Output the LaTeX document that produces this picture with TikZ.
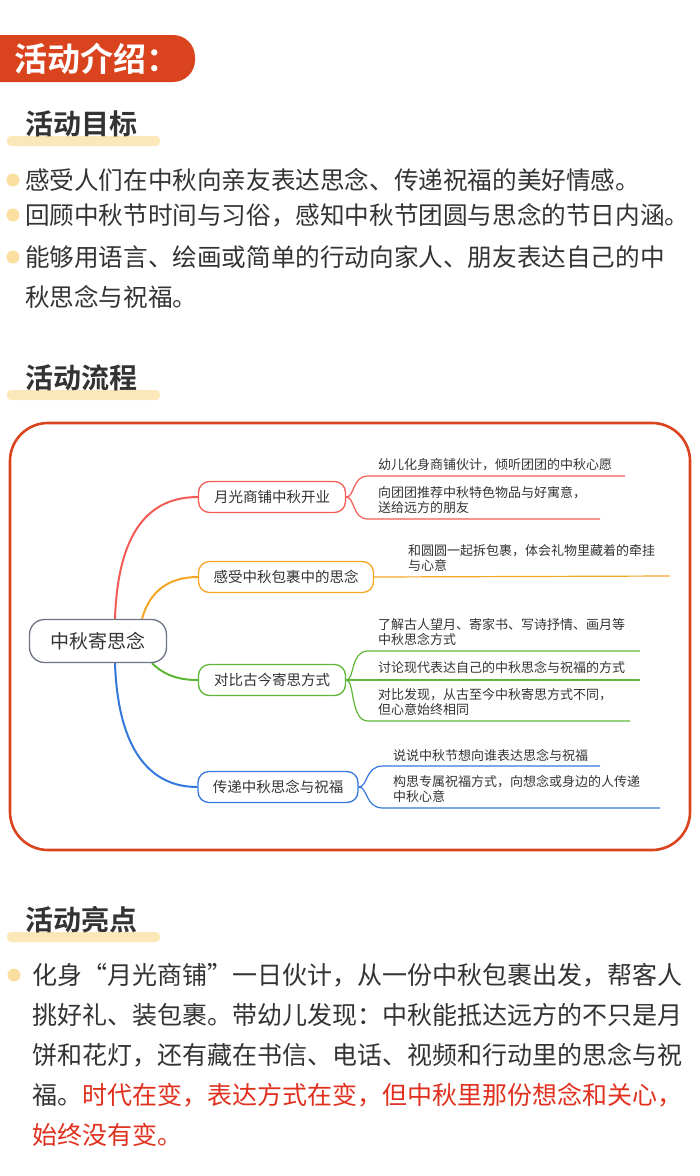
\documentclass[tikz,border=0pt]{standalone}
\usepackage{fontspec}
\setmainfont{Noto Sans CJK SC}
\newfontfamily\cjkb{Noto Sans CJK SC Bold}
\usetikzlibrary{backgrounds}
\definecolor{frame}{HTML}{D9441F}
\definecolor{txt}{HTML}{333333}
\definecolor{hl}{HTML}{FBE7B8}
\definecolor{dot}{HTML}{FBDFA0}
\definecolor{cr}{HTML}{F25C54}
\definecolor{co}{HTML}{F5A623}
\definecolor{cg}{HTML}{5DB734}
\definecolor{cb}{HTML}{3478DC}
\definecolor{cc}{HTML}{6B7385}
\definecolor{red2}{HTML}{E0301E}
\begin{document}
\begin{tikzpicture}[x=1pt,y=-1pt,
  body/.style={anchor=west,inner sep=0,text=txt,font=\fontsize{24.6}{25}\selectfont},
  head/.style={anchor=west,inner sep=0,text=txt,font=\cjkb\fontsize{28}{28}\selectfont},
  bar/.style={fill=hl,rounded corners=4pt},
  bdot/.style={circle,fill=dot,inner sep=0,minimum size=13pt},
  br/.style={draw=#1,line width=1.3pt,rounded corners=11pt,fill=white,text=txt,inner sep=0,minimum height=31pt,font=\fontsize{14.5}{14.5}\selectfont},
  leaf/.style={anchor=west,inner sep=0,text=txt,align=left,font=\fontsize{13}{15.5}\selectfont},
  ln/.style={draw=#1,line width=1.2pt}]
\useasboundingbox (0,0) rectangle (700,1176);
% title
\fill[frame,rounded corners=22pt] (-30,35) rectangle (195,82);
\node[anchor=west,inner sep=0,text=white,font=\cjkb\fontsize{33}{33}\selectfont] (title) at (14,59) {活动介绍：};
% goals
\fill[bar] (7,136) rectangle (160,146);
\node[head] (h1) at (25,124) {活动目标};
\node[bdot] (d1) at (13,180) {};
\node[bdot] (d2) at (13,215) {};
\node[bdot] (d3) at (13,257) {};
\node[body] (t1) at (25,180) {感受人们在中秋向亲友表达思念、传递祝福的美好情感。};
\node[body] (t2) at (25,215) {回顾中秋节时间与习俗，感知中秋节团圆与思念的节日内涵。};
\node[body] (t3) at (25,257) {能够用语言、绘画或简单的行动向家人、朋友表达自己的中};
\node[body] (t4) at (25,297) {秋思念与祝福。};
% flow
\fill[bar] (7,390) rectangle (160,400);
\node[head] (h2) at (25,378) {活动流程};
\draw[frame,line width=2.6pt,rounded corners=38pt] (10,423) rectangle (690,850);
% mind map
\node[draw=cc,line width=1.3pt,rounded corners=15pt,fill=white,minimum width=137pt,minimum height=43pt,text=txt,font=\fontsize{19}{19}\selectfont] (c) at (98,641) {中秋寄思念};
\node[br=cr,minimum width=147pt] (b1) at (272,497) {月光商铺中秋开业};
\node[br=co,minimum width=175pt] (b2) at (286,577) {感受中秋包裹中的思念};
\node[br=cg,minimum width=147pt] (b3) at (272,680) {对比古今寄思方式};
\node[br=cb,minimum width=160pt] (b4) at (278,787) {传递中秋思念与祝福};
\begin{scope}[on background layer]
\draw[cr,line width=2pt] (c.north) ++(17,0) .. controls (118,530) and (150,497) .. (b1.west);
\draw[co,line width=2pt] (c.north) ++(44,0) .. controls (150,590) and (170,577) .. (b2.west);
\draw[cg,line width=2pt] (c.south) ++(54,0) .. controls (165,676) and (180,680) .. (b3.west);
\draw[cb,line width=2pt] (c.south) ++(17,0) .. controls (118,750) and (150,787) .. (b4.west);
\end{scope}
% leaves 1
\coordinate (e11) at (625,476); \coordinate (e12) at (600,519);
\node[leaf] (l11) at (378,465) {幼儿化身商铺伙计，倾听团团的中秋心愿};
\node[leaf] (l12) at (378,500) {向团团推荐中秋特色物品与好寓意，\\送给远方的朋友};
\draw[ln=cr] (b1.east) .. controls (355,497) and (352,476) .. (368,476) -- (e11);
\draw[ln=cr] (b1.east) .. controls (355,497) and (352,519) .. (368,519) -- (e12);
% leaves 2
\coordinate (e21) at (670,576);
\node[leaf] (l21) at (408,558) {和圆圆一起拆包裹，体会礼物里藏着的牵挂\\与心意};
\draw[ln=co] (b2.east) -- (e21);
% leaves 3
\coordinate (e31) at (640,651); \coordinate (e32) at (640,680); \coordinate (e33) at (630,721);
\node[leaf] (l31) at (378,632) {了解古人望月、寄家书、写诗抒情、画月等\\中秋思念方式};
\node[leaf] (l32) at (378,667) {讨论现代表达自己的中秋思念与祝福的方式};
\node[leaf] (l33) at (378,702) {对比发现，从古至今中秋寄思方式不同，\\但心意始终相同};
\draw[ln=cg] (b3.east) .. controls (355,680) and (350,651) .. (368,651) -- (e31);
\draw[ln=cg] (b3.east) -- (e32);
\draw[ln=cg] (b3.east) .. controls (355,680) and (350,721) .. (368,721) -- (e33);
% leaves 4
\coordinate (e41) at (600,766); \coordinate (e42) at (660,808);
\node[leaf] (l41) at (393,755) {说说中秋节想向谁表达思念与祝福};
\node[leaf] (l42) at (393,789) {构思专属祝福方式，向想念或身边的人传递\\中秋心意};
\draw[ln=cb] (b4.east) .. controls (368,787) and (365,766) .. (383,766) -- (e41);
\draw[ln=cb] (b4.east) .. controls (368,787) and (365,808) .. (383,808) -- (e42);
% highlights
\fill[bar] (7,932) rectangle (160,942);
\node[head] (h3) at (25,920) {活动亮点};
\node[bdot] (d4) at (14,975) {};
\node[body,font=\fontsize{25}{25}\selectfont] (p1) at (32,975) {化身“月光商铺”一日伙计，从一份中秋包裹出发，帮客人};
\node[body,font=\fontsize{25}{25}\selectfont] (p2) at (32,1015) {挑好礼、装包裹。带幼儿发现：中秋能抵达远方的不只是月};
\node[body,font=\fontsize{25}{25}\selectfont] (p3) at (32,1055) {饼和花灯，还有藏在书信、电话、视频和行动里的思念与祝};
\node[body,font=\fontsize{25}{25}\selectfont] (p4) at (32,1095) {福。\textcolor{red2}{时代在变，表达方式在变，但中秋里那份想念和关心，}};
\node[body,font=\fontsize{25}{25}\selectfont,text=red2] (p5) at (32,1135) {始终没有变。};
\end{tikzpicture}
\end{document}
